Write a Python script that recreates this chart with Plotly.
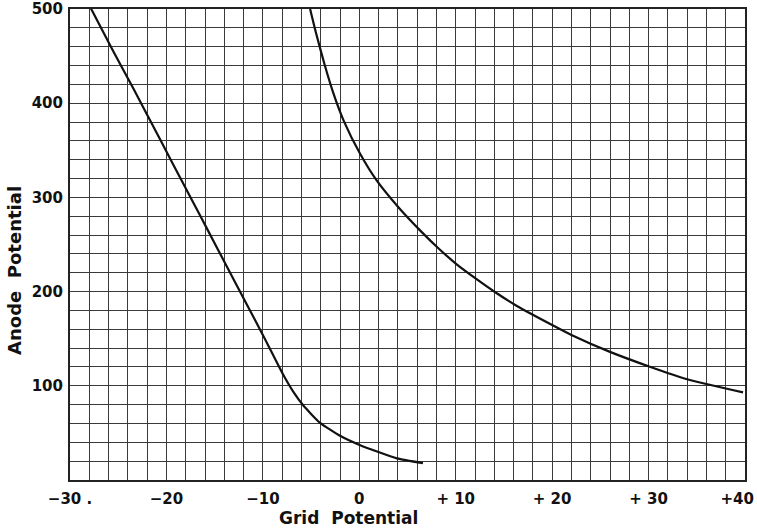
import plotly.graph_objects as go

# Data
curve1_x = [-27.9, -25.5, -23.4, -21.4, -19.3, -17.4, -15.7, -13.6, -11.8, -9.8, -7.9, -6.8, -5.8, -4.1, -2.0, 0.1, 3.9, 6.6]
curve1_y = [502, 455, 415, 376, 335, 298, 265, 224, 189, 150, 112, 93, 79, 61, 47, 37, 23, 18]

curve2_x = [-5.1, -4.5, -3.6, -2.7, -1.6, 0.1, 1.8, 4.1, 6.3, 8.2, 10.1, 12.2, 14.3, 16.3, 20.1, 22.0, 26.0, 30.2, 34.0, 39.8]
curve2_y = [500, 475, 441, 411, 381, 346, 318, 289, 265, 246, 229, 213, 198, 185, 164, 154, 136, 120, 107, 93]

x_tickvals = [-30, -20, -10, 0, 10, 20, 30, 40]
x_ticktext = ["−30 .", "−20", "−10", "0", "+ 10", "+ 20", "+ 30", "+40\u00a0\u00a0\u00a0"]
y_tickvals = [100, 200, 300, 400, 500]
y_ticktext = ["100", "200", "300", "400", "500"]

FONT = "DejaVu Sans"
GRID = "#3a3a3a"

fig = go.Figure()
for xs, ys in [(curve1_x, curve1_y), (curve2_x, curve2_y)]:
    fig.add_trace(go.Scatter(x=xs, y=ys, mode="lines",
                             line=dict(color="#111111", width=2.2, shape="spline", smoothing=0.5),
                             showlegend=False, hoverinfo="skip"))

fig.update_layout(
    width=757, height=532,
    margin=dict(l=70, r=12, t=9, b=52),
    paper_bgcolor="white", plot_bgcolor="white",
    font=dict(family=FONT, color="#111111", size=15),
    xaxis=dict(range=[-30, 40], tickvals=x_tickvals, ticktext=x_ticktext,
               showgrid=True, gridcolor=GRID, gridwidth=1.4,
               minor=dict(tick0=0, dtick=2, showgrid=True, gridcolor=GRID, gridwidth=1.4),
               showline=True, linecolor="#222222", linewidth=2, mirror=True,
               zeroline=False, ticks="", ticklabelstandoff=4, ticklabeloverflow="allow",
               automargin=False,
               tickfont=dict(family=FONT, size=15, weight="bold")),
    yaxis=dict(range=[0, 500], tickvals=y_tickvals, ticktext=y_ticktext,
               showgrid=True, gridcolor=GRID, gridwidth=1.4,
               minor=dict(tick0=0, dtick=20, showgrid=True, gridcolor=GRID, gridwidth=1.4),
               showline=True, linecolor="#222222", linewidth=2, mirror=True,
               zeroline=False, ticks="", ticklabelstandoff=2, ticklabeloverflow="allow",
               automargin=False,
               tickfont=dict(family=FONT, size=15, weight="bold")),
    annotations=[
        dict(text="Grid  Potential", xref="paper", yref="paper", x=0.412, y=-0.081,
             xanchor="center", yanchor="middle", showarrow=False,
             font=dict(family=FONT, size=17, weight="bold")),
        dict(text="Anode  Potential", xref="paper", yref="paper", x=-0.0815, y=0.446,
             xanchor="center", yanchor="middle", showarrow=False, textangle=-90,
             font=dict(family=FONT, size=18, weight="bold")),
    ],
)

fig.write_html("out.html", config={"displayModeBar": False},
               post_script="document.body.style.margin='0';")
